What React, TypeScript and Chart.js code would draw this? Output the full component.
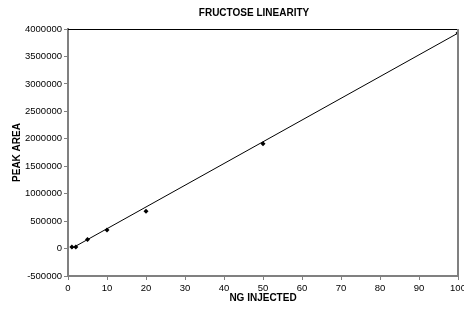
import React, { useEffect, useRef } from "react";
import { Chart, registerables } from "chart.js";

Chart.register(...registerables);

const TITLE = "FRUCTOSE LINEARITY";
const X_TITLE = "NG INJECTED";
const Y_TITLE = "PEAK AREA";
const ngInjected = [1, 2, 5, 10, 20, 50, 100];
const peakArea = [30000, 30000, 165000, 340000, 680000, 1910000, 3925000];
const trendX = [1, 100];
const trendY = [5000, 3925000];
const X_MIN = 0, X_MAX = 100, X_STEP = 10;
const Y_MIN = -500000, Y_MAX = 4000000, Y_STEP = 500000;

const FONT = "'Liberation Sans', Arial, sans-serif";
const AXIS = "#808080";

const framePlugin = {
  id: "frame",
  afterDraw(chart: any) {
    const { ctx, chartArea } = chart;
    const { left, right, top, bottom } = chartArea;
    ctx.save();
    ctx.strokeStyle = "#000000";
    ctx.lineWidth = 1;
    ctx.beginPath();
    ctx.moveTo(left, top + 0.5);
    ctx.lineTo(right, top + 0.5);
    ctx.stroke();
    ctx.strokeStyle = AXIS;
    ctx.lineWidth = 2;
    ctx.beginPath();
    ctx.moveTo(right, top);
    ctx.lineTo(right, bottom);
    ctx.stroke();
    ctx.fillStyle = "#000000";
    ctx.font = `bold 10px ${FONT}`;
    ctx.textAlign = "center";
    ctx.textBaseline = "middle";
    ctx.fillText(TITLE, 254, 13);
    ctx.restore();
  },
};

export default function App() {
  const ref = useRef<HTMLCanvasElement | null>(null);
  useEffect(() => {
    if (!ref.current) return;
    const chart = new Chart(ref.current, {
      type: "scatter",
      data: {
        datasets: [
          {
            type: "line",
            data: trendX.map((x, i) => ({ x, y: trendY[i] })),
            borderColor: "#000000",
            borderWidth: 1,
            pointRadius: 0,
            fill: false,
          },
          {
            data: ngInjected.map((x, i) => ({ x, y: peakArea[i] })),
            pointStyle: "rectRot",
            pointRadius: 2.5,
            backgroundColor: "#000000",
            borderColor: "#000000",
            borderWidth: 0,
          },
        ],
      } as any,
      options: {
        animation: false,
        responsive: false,
        layout: { padding: { top: 29, right: 6, left: 0, bottom: 0 }, autoPadding: false },
        plugins: {
          legend: { display: false },
          tooltip: { enabled: false },
          title: { display: false },
        },
        scales: {
          x: {
            type: "linear",
            min: X_MIN,
            max: X_MAX,
            ticks: {
              stepSize: X_STEP,
              color: "#000000",
              font: { family: FONT, size: 9.5 },
              padding: 3,
              maxRotation: 0,
              callback: (v: any) => String(v),
            },
            grid: { drawOnChartArea: false, drawTicks: true, tickLength: 4, color: AXIS, lineWidth: 1 },
            border: { display: true, color: AXIS, width: 2 },
            title: {
              display: true,
              text: X_TITLE,
              color: "#000000",
              font: { family: FONT, size: 10, weight: "bold" },
              padding: { top: 2, bottom: 6 },
            },
            afterFit: (s: any) => {
              s.height = 34;
              s.paddingLeft = 0;
              s.paddingRight = 0;
            },
          },
          y: {
            type: "linear",
            min: Y_MIN,
            max: Y_MAX,
            ticks: {
              stepSize: Y_STEP,
              color: "#000000",
              font: { family: FONT, size: 9.5 },
              padding: 2,
              callback: (v: any) => String(v),
            },
            grid: { drawOnChartArea: false, drawTicks: true, tickLength: 4, color: AXIS, lineWidth: 1 },
            border: { display: true, color: AXIS, width: 2 },
            title: {
              display: true,
              text: Y_TITLE,
              color: "#000000",
              font: { family: FONT, size: 10, weight: "bold" },
              padding: { top: 11, bottom: 0 },
            },
            afterFit: (s: any) => {
              s.width = 68;
              s.paddingTop = 0;
              s.paddingBottom = 0;
            },
          },
        },
      } as any,
      plugins: [framePlugin],
    });
    return () => chart.destroy();
  }, []);
  return (
    <div style={{ position: "absolute", left: 0, top: 0, width: 464, height: 310, background: "#fff" }}>
      <canvas ref={ref} width={464} height={310} />
    </div>
  );
}
